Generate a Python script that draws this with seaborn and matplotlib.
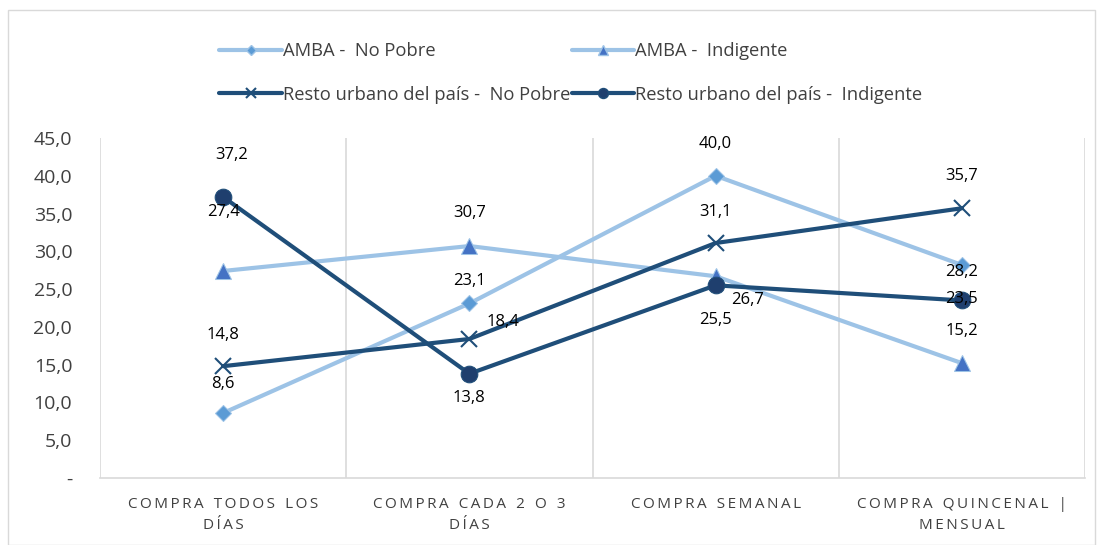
import numpy as np
import pandas as pd
import matplotlib
matplotlib.use("Agg")
import matplotlib.pyplot as plt
import seaborn as sns
from matplotlib.patches import Rectangle
from matplotlib.lines import Line2D

categorias = ["COMPRA TODOS LOS\nDÍAS", "COMPRA CADA 2 O 3\nDÍAS", "COMPRA SEMANAL", "COMPRA QUINCENAL |\nMENSUAL"]
amba_no_pobre = [8.6, 23.1, 40.0, 28.2]
amba_indigente = [27.4, 30.7, 26.7, 15.2]
resto_no_pobre = [14.8, 18.4, 31.1, 35.7]
resto_indigente = [37.2, 13.8, 25.5, 23.5]
series_nombres = ["AMBA -  No Pobre", "AMBA -  Indigente",
                  "Resto urbano del país -  No Pobre", "Resto urbano del país -  Indigente"]
yticks = [0, 5, 10, 15, 20, 25, 30, 35, 40, 45]

# label offsets in pixels (dx, dy) for each series / point
offsets = {
    0: [(0, 29), (0, 22), (0, 32), (0, -7)],
    1: [(0, 59), (0, 33), (32, -24), (0, 32)],
    2: [(0, 31), (34, 17), (0, 31), (0, 32)],
    3: [(8, 42), (0, -24), (0, -35), (0, 1)],
}

def spaced(s):
    # imitate excel letter spacing
    out = []
    for line in s.split("\n"):
        words = line.split(" ")
        out.append("\u2002\u2009".join("\u2009".join(w) for w in words))
    return "\n".join(out)

sns.set_theme(style="white")
plt.rcParams["font.family"] = ["Open Sans", "DejaVu Sans"]

fig = plt.figure(figsize=(11.02, 5.45), dpi=100)
ax = fig.add_axes([100 / 1102, 1 - 478 / 545, 985 / 1102, 340 / 545])

x = np.arange(len(categorias))
light = "#9DC3E6"
dark = "#1F4E79"
estilos = [
    dict(color=light, marker="D", markersize=8, markerfacecolor="#5B9BD5", markeredgecolor=light),
    dict(color=light, marker="^", markersize=11, markerfacecolor="#4472C4", markeredgecolor=light),
    dict(color=dark, marker="x", markersize=11, markeredgewidth=1.5, markeredgecolor=dark),
    dict(color=dark, marker="o", markersize=12, markerfacecolor="#1F3F6E", markeredgecolor=dark),
]
datos = [amba_no_pobre, amba_indigente, resto_no_pobre, resto_indigente]

handles = []
for i, (vals, nombre, st) in enumerate(zip(datos, series_nombres, estilos)):
    sns.lineplot(x=x, y=vals, ax=ax, linewidth=3, **st)
    hst = dict(st)
    hst["markersize"] = st["markersize"] * 0.6
    handles.append(Line2D([], [], linewidth=3, **hst))
    for j, v in enumerate(vals):
        dx, dy = offsets[i][j]
        ax.annotate(f"{v:.1f}".replace(".", ","), (x[j], v), xytext=(dx, dy),
                    textcoords="offset pixels", ha="center", va="center",
                    fontsize=12, color="black")

ax.set_xlim(-0.5, 3.5)
ax.set_ylim(0, 45)
ax.set_yticks(yticks)
ax.set_yticklabels(["-" if t == 0 else f"{t:.1f}".replace(".", ",") for t in yticks],
                   fontsize=14, color="#404040")
ax.tick_params(axis="y", pad=20, length=0)
ax.set_xticks(x)
ax.set_xticklabels([spaced(c) for c in categorias], fontsize=11, color="#404040", linespacing=1.5)
ax.tick_params(axis="x", pad=14, length=0)
for b in [-0.5, 0.5, 1.5, 2.5, 3.5]:
    ax.axvline(b, color="#D9D9D9", linewidth=1.2, zorder=0)
for s in ["top", "right", "left"]:
    ax.spines[s].set_visible(False)
ax.spines["bottom"].set_color("#D9D9D9")
ax.spines["bottom"].set_linewidth(1.2)

# legend is filled column by column, so reorder to get row order
orden = [0, 2, 1, 3]
ax.legend([handles[k] for k in orden], [series_nombres[k] for k in orden], ncol=2,
          loc="lower left", bbox_to_anchor=(112 / 985, 1.0 + 27 / 340),
          frameon=False, fontsize=13.2, handlelength=3.4, columnspacing=0.1, labelspacing=1.4,
          handletextpad=0.05, labelcolor="#404040", borderaxespad=0)
fig.patches.append(Rectangle((8 / 1102, 0.0), 1087 / 1102, 1 - 10 / 545, transform=fig.transFigure,
                             fill=False, edgecolor="#D9D9D9", linewidth=1))

fig.savefig("out.png", dpi=100)
